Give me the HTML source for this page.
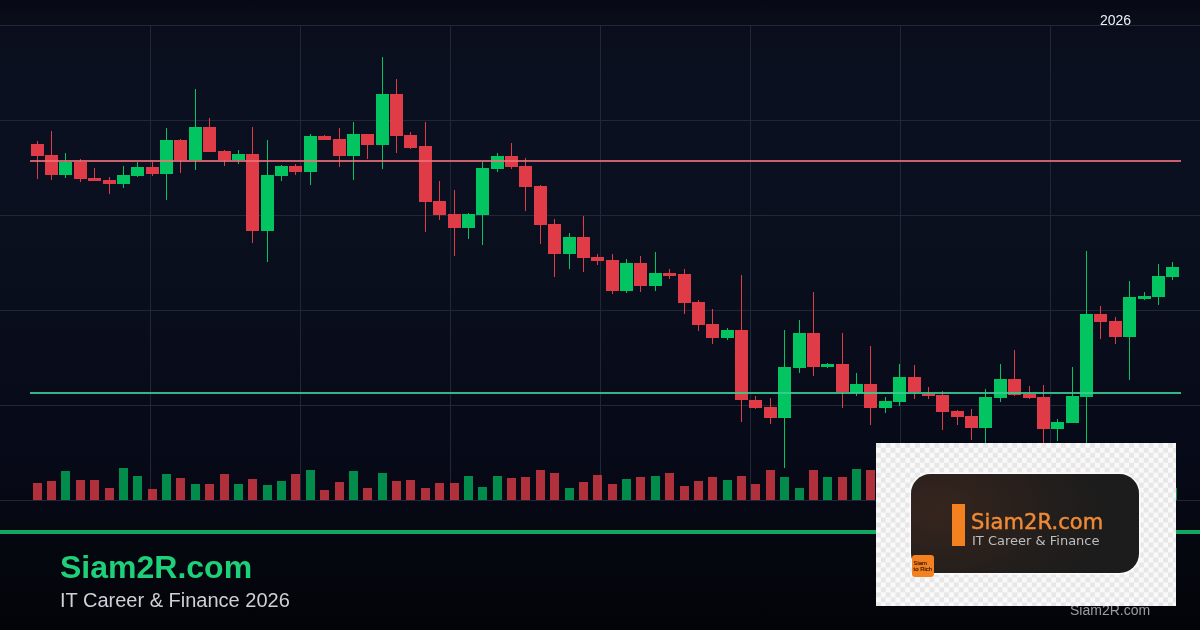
<!DOCTYPE html>
<html><head><meta charset="utf-8"><title>Siam2R.com</title>
<style>
*{margin:0;padding:0;box-sizing:border-box}
html,body{width:1200px;height:630px;overflow:hidden;-webkit-font-smoothing:antialiased}
body{position:relative;background:linear-gradient(180deg,#070a15 0px,#0a0e1c 30px,#0b1020 80px,#0b1020 170px,#0a0f1e 260px,#080c1b 360px,#070a18 440px,#060914 500px,#05070f 550px,#030409 630px);font-family:"Liberation Sans",Arial,sans-serif}
svg{position:absolute;left:0;top:0}
.yr{position:absolute;left:1100px;top:12px;will-change:transform;font-size:14px;color:#eef0f4;line-height:16px}
.brand{position:absolute;will-change:transform;left:59.7px;top:549.2px;font-size:32px;font-weight:700;color:#1fd07a;line-height:36px;letter-spacing:0}
.sub{position:absolute;will-change:transform;left:60px;top:588px;font-size:20px;color:#cdd0d6;line-height:24px}
.wm{position:absolute;will-change:transform;left:1070px;top:602.2px;font-size:14px;color:#9a9ca2;line-height:16px}
.logo{position:absolute;left:876px;top:443px;width:300px;height:162.5px;background:repeating-conic-gradient(#f9f9f9 0 25%,#e7e7e8 0 50%) 0 -0.2px/9.74px 9.97px}
.card{position:absolute;left:35.3px;top:31px;width:228px;height:98.6px;border-radius:19.5px;background:radial-gradient(ellipse 75% 110% at 12% 35%,#36251e 0%,#2c211c 35%,#221e1c 70%,#1c1c1c 100%);box-shadow:0 0 0 1.5px #fbfbfb}
.bar{position:absolute;left:76.2px;top:60.9px;width:12.8px;height:41.8px;background:#f3811f}
.t1{position:absolute;will-change:transform;left:94.5px;top:66.6px;font-family:"DejaVu Sans",sans-serif;font-size:21px;line-height:24px;color:#f08a36;-webkit-text-stroke:0.45px #f08a36;letter-spacing:0.12px;white-space:nowrap}
.t2{position:absolute;will-change:transform;left:96px;top:90.3px;font-family:"DejaVu Sans",sans-serif;font-weight:400;font-size:13px;line-height:16px;color:#bebebe;white-space:nowrap}
.sq{position:absolute;will-change:transform;left:36px;top:111.8px;width:22px;height:22px;border-radius:3px;background:#f3811f;color:#2a1608;font-family:"Liberation Sans",sans-serif;font-weight:400;font-size:5.9px;line-height:5.4px;padding:6.4px 0 0 1.6px;letter-spacing:0px;-webkit-text-stroke:0.15px #2a1608}
</style></head><body>
<svg width="1200" height="630" viewBox="0 0 1200 630"><g fill="#222738"><rect x="0" y="25" width="1200" height="1"/><rect x="0" y="120" width="1200" height="1"/><rect x="0" y="215" width="1200" height="1"/><rect x="0" y="310" width="1200" height="1"/><rect x="0" y="405" width="1200" height="1"/><rect x="0" y="500" width="1200" height="1"/><rect x="150" y="26" width="1" height="474"/><rect x="300" y="26" width="1" height="474"/><rect x="450" y="26" width="1" height="474"/><rect x="600" y="26" width="1" height="474"/><rect x="750" y="26" width="1" height="474"/><rect x="900" y="26" width="1" height="474"/><rect x="1050" y="26" width="1" height="474"/></g><g fill="rgba(224,60,72,0.78)"><rect x="33" y="483" width="9" height="17"/><rect x="47" y="481" width="9" height="19"/><rect x="76" y="480" width="9" height="20"/><rect x="90" y="480" width="9" height="20"/><rect x="105" y="488" width="9" height="12"/><rect x="148" y="489" width="9" height="11"/><rect x="176" y="478" width="9" height="22"/><rect x="205" y="484" width="9" height="16"/><rect x="220" y="474" width="9" height="26"/><rect x="248" y="479" width="9" height="21"/><rect x="291" y="474" width="9" height="26"/><rect x="320" y="490" width="9" height="10"/><rect x="335" y="482" width="9" height="18"/><rect x="363" y="488" width="9" height="12"/><rect x="392" y="481" width="9" height="19"/><rect x="406" y="480" width="9" height="20"/><rect x="421" y="488" width="9" height="12"/><rect x="435" y="483" width="9" height="17"/><rect x="450" y="483" width="9" height="17"/><rect x="507" y="478" width="9" height="22"/><rect x="521" y="477" width="9" height="23"/><rect x="536" y="470" width="9" height="30"/><rect x="550" y="473" width="9" height="27"/><rect x="579" y="482" width="9" height="18"/><rect x="593" y="475" width="9" height="25"/><rect x="608" y="484" width="9" height="16"/><rect x="636" y="477" width="9" height="23"/><rect x="665" y="473" width="9" height="27"/><rect x="680" y="486" width="9" height="14"/><rect x="694" y="481" width="9" height="19"/><rect x="708" y="477" width="9" height="23"/><rect x="737" y="476" width="9" height="24"/><rect x="751" y="484" width="9" height="16"/><rect x="766" y="470" width="9" height="30"/><rect x="809" y="470" width="9" height="30"/><rect x="838" y="477" width="9" height="23"/><rect x="866" y="470" width="9" height="30"/><rect x="910" y="480" width="9" height="20"/><rect x="924" y="485" width="9" height="15"/><rect x="938" y="470" width="9" height="30"/><rect x="953" y="470" width="9" height="30"/><rect x="967" y="485" width="9" height="15"/><rect x="1010" y="475" width="9" height="25"/><rect x="1025" y="485" width="9" height="15"/><rect x="1039" y="485" width="9" height="15"/><rect x="1096" y="475" width="9" height="25"/><rect x="1111" y="485" width="9" height="15"/></g><g fill="rgba(2,197,98,0.70)"><rect x="61" y="471" width="9" height="29"/><rect x="119" y="468" width="9" height="32"/><rect x="133" y="476" width="9" height="24"/><rect x="162" y="474" width="9" height="26"/><rect x="191" y="484" width="9" height="16"/><rect x="234" y="484" width="9" height="16"/><rect x="263" y="485" width="9" height="15"/><rect x="277" y="481" width="9" height="19"/><rect x="306" y="470" width="9" height="30"/><rect x="349" y="471" width="9" height="29"/><rect x="378" y="473" width="9" height="27"/><rect x="464" y="476" width="9" height="24"/><rect x="478" y="487" width="9" height="13"/><rect x="493" y="476" width="9" height="24"/><rect x="565" y="488" width="9" height="12"/><rect x="622" y="479" width="9" height="21"/><rect x="651" y="476" width="9" height="24"/><rect x="723" y="480" width="9" height="20"/><rect x="780" y="477" width="9" height="23"/><rect x="795" y="488" width="9" height="12"/><rect x="823" y="477" width="9" height="23"/><rect x="852" y="469" width="9" height="31"/><rect x="881" y="475" width="9" height="25"/><rect x="895" y="475" width="9" height="25"/><rect x="981" y="480" width="9" height="20"/><rect x="996" y="475" width="9" height="25"/><rect x="1053" y="485" width="9" height="15"/><rect x="1068" y="475" width="9" height="25"/><rect x="1082" y="475" width="9" height="25"/><rect x="1125" y="470" width="9" height="30"/><rect x="1140" y="470" width="9" height="30"/><rect x="1154" y="475" width="9" height="25"/><rect x="1168" y="488" width="9" height="12"/></g><g fill="#e03c48"><rect x="37" y="141" width="1" height="38"/><rect x="31" y="144" width="13" height="12"/><rect x="51" y="131" width="1" height="49"/><rect x="45" y="155" width="13" height="20"/><rect x="80" y="159" width="1" height="23"/><rect x="74" y="162" width="13" height="17"/><rect x="94" y="168" width="1" height="13"/><rect x="88" y="178" width="13" height="3"/><rect x="109" y="177" width="1" height="17"/><rect x="103" y="180" width="13" height="4"/><rect x="152" y="162" width="1" height="14"/><rect x="146" y="167" width="13" height="7"/><rect x="180" y="139" width="1" height="34"/><rect x="174" y="140" width="13" height="20"/><rect x="209" y="118" width="1" height="34"/><rect x="203" y="127" width="13" height="25"/><rect x="224" y="150" width="1" height="16"/><rect x="218" y="151" width="13" height="9"/><rect x="252" y="127" width="1" height="116"/><rect x="246" y="154" width="13" height="77"/><rect x="295" y="164" width="1" height="11"/><rect x="289" y="166" width="13" height="6"/><rect x="324" y="135" width="1" height="5"/><rect x="318" y="136" width="13" height="4"/><rect x="339" y="128" width="1" height="39"/><rect x="333" y="139" width="13" height="17"/><rect x="367" y="134" width="1" height="25"/><rect x="361" y="134" width="13" height="11"/><rect x="396" y="79" width="1" height="74"/><rect x="390" y="94" width="13" height="42"/><rect x="410" y="132" width="1" height="17"/><rect x="404" y="135" width="13" height="13"/><rect x="425" y="122" width="1" height="110"/><rect x="419" y="146" width="13" height="56"/><rect x="439" y="181" width="1" height="39"/><rect x="433" y="201" width="13" height="14"/><rect x="454" y="190" width="1" height="66"/><rect x="448" y="214" width="13" height="14"/><rect x="511" y="143" width="1" height="26"/><rect x="505" y="156" width="13" height="11"/><rect x="525" y="158" width="1" height="53"/><rect x="519" y="166" width="13" height="21"/><rect x="540" y="185" width="1" height="59"/><rect x="534" y="186" width="13" height="39"/><rect x="554" y="219" width="1" height="58"/><rect x="548" y="224" width="13" height="30"/><rect x="583" y="216" width="1" height="56"/><rect x="577" y="237" width="13" height="21"/><rect x="597" y="254" width="1" height="11"/><rect x="591" y="257" width="13" height="4"/><rect x="612" y="254" width="1" height="40"/><rect x="606" y="260" width="13" height="31"/><rect x="640" y="256" width="1" height="36"/><rect x="634" y="263" width="13" height="23"/><rect x="669" y="269" width="1" height="10"/><rect x="663" y="273" width="13" height="3"/><rect x="684" y="269" width="1" height="45"/><rect x="678" y="274" width="13" height="29"/><rect x="698" y="300" width="1" height="31"/><rect x="692" y="302" width="13" height="23"/><rect x="712" y="309" width="1" height="35"/><rect x="706" y="324" width="13" height="14"/><rect x="741" y="275" width="1" height="147"/><rect x="735" y="330" width="13" height="70"/><rect x="755" y="396" width="1" height="13"/><rect x="749" y="400" width="13" height="8"/><rect x="770" y="398" width="1" height="26"/><rect x="764" y="407" width="13" height="11"/><rect x="813" y="292" width="1" height="84"/><rect x="807" y="333" width="13" height="34"/><rect x="842" y="333" width="1" height="75"/><rect x="836" y="364" width="13" height="28"/><rect x="870" y="346" width="1" height="79"/><rect x="864" y="384" width="13" height="24"/><rect x="914" y="365" width="1" height="34"/><rect x="908" y="377" width="13" height="15"/><rect x="928" y="387" width="1" height="12"/><rect x="922" y="394" width="13" height="2"/><rect x="942" y="391" width="1" height="39"/><rect x="936" y="395" width="13" height="17"/><rect x="957" y="410" width="1" height="15"/><rect x="951" y="411" width="13" height="6"/><rect x="971" y="409" width="1" height="31"/><rect x="965" y="416" width="13" height="12"/><rect x="1014" y="350" width="1" height="46"/><rect x="1008" y="379" width="13" height="16"/><rect x="1029" y="386" width="1" height="13"/><rect x="1023" y="394" width="13" height="4"/><rect x="1043" y="385" width="1" height="61"/><rect x="1037" y="397" width="13" height="32"/><rect x="1100" y="306" width="1" height="33"/><rect x="1094" y="314" width="13" height="8"/><rect x="1115" y="317" width="1" height="27"/><rect x="1109" y="321" width="13" height="16"/></g><g fill="#02c562"><rect x="65" y="153" width="1" height="25"/><rect x="59" y="162" width="13" height="13"/><rect x="123" y="166" width="1" height="22"/><rect x="117" y="175" width="13" height="9"/><rect x="137" y="162" width="1" height="15"/><rect x="131" y="167" width="13" height="9"/><rect x="166" y="128" width="1" height="72"/><rect x="160" y="140" width="13" height="34"/><rect x="195" y="89" width="1" height="81"/><rect x="189" y="127" width="13" height="33"/><rect x="238" y="150" width="1" height="14"/><rect x="232" y="154" width="13" height="6"/><rect x="267" y="140" width="1" height="122"/><rect x="261" y="175" width="13" height="56"/><rect x="281" y="165" width="1" height="16"/><rect x="275" y="166" width="13" height="10"/><rect x="310" y="134" width="1" height="51"/><rect x="304" y="136" width="13" height="36"/><rect x="353" y="122" width="1" height="58"/><rect x="347" y="134" width="13" height="22"/><rect x="382" y="57" width="1" height="112"/><rect x="376" y="94" width="13" height="51"/><rect x="468" y="213" width="1" height="26"/><rect x="462" y="214" width="13" height="14"/><rect x="482" y="162" width="1" height="83"/><rect x="476" y="168" width="13" height="47"/><rect x="497" y="153" width="1" height="19"/><rect x="491" y="156" width="13" height="13"/><rect x="569" y="233" width="1" height="36"/><rect x="563" y="237" width="13" height="17"/><rect x="626" y="259" width="1" height="34"/><rect x="620" y="263" width="13" height="28"/><rect x="655" y="252" width="1" height="39"/><rect x="649" y="273" width="13" height="13"/><rect x="727" y="328" width="1" height="12"/><rect x="721" y="330" width="13" height="8"/><rect x="784" y="330" width="1" height="138"/><rect x="778" y="367" width="13" height="51"/><rect x="799" y="320" width="1" height="53"/><rect x="793" y="333" width="13" height="35"/><rect x="827" y="363" width="1" height="5"/><rect x="821" y="364" width="13" height="3"/><rect x="856" y="373" width="1" height="23"/><rect x="850" y="384" width="13" height="9"/><rect x="885" y="397" width="1" height="16"/><rect x="879" y="401" width="13" height="7"/><rect x="899" y="364" width="1" height="42"/><rect x="893" y="377" width="13" height="25"/><rect x="985" y="389" width="1" height="57"/><rect x="979" y="397" width="13" height="31"/><rect x="1000" y="364" width="1" height="38"/><rect x="994" y="379" width="13" height="19"/><rect x="1057" y="419" width="1" height="22"/><rect x="1051" y="422" width="13" height="7"/><rect x="1072" y="367" width="1" height="56"/><rect x="1066" y="396" width="13" height="27"/><rect x="1086" y="251" width="1" height="195"/><rect x="1080" y="314" width="13" height="83"/><rect x="1129" y="281" width="1" height="99"/><rect x="1123" y="297" width="13" height="40"/><rect x="1144" y="292" width="1" height="8"/><rect x="1138" y="296" width="13" height="3"/><rect x="1158" y="264" width="1" height="41"/><rect x="1152" y="276" width="13" height="21"/><rect x="1172" y="262" width="1" height="18"/><rect x="1166" y="267" width="13" height="10"/></g><rect x="30" y="160" width="1151" height="2" fill="rgba(240,112,122,0.84)"/><rect x="30" y="392" width="1151" height="2" fill="rgba(58,205,148,0.88)"/><rect x="0" y="530" width="1200" height="4" fill="#12a862"/></svg>
<div class="yr">2026</div>
<div class="wm">Siam2R.com</div>
<div class="brand">Siam2R.com</div>
<div class="sub">IT Career &amp; Finance 2026</div>
<div class="logo"><div class="card"></div><div class="bar"></div><div class="t1">Siam2R.com</div><div class="t2">IT Career &amp; Finance</div><div class="sq">Siam<br>to Rich</div></div>
</body></html>
